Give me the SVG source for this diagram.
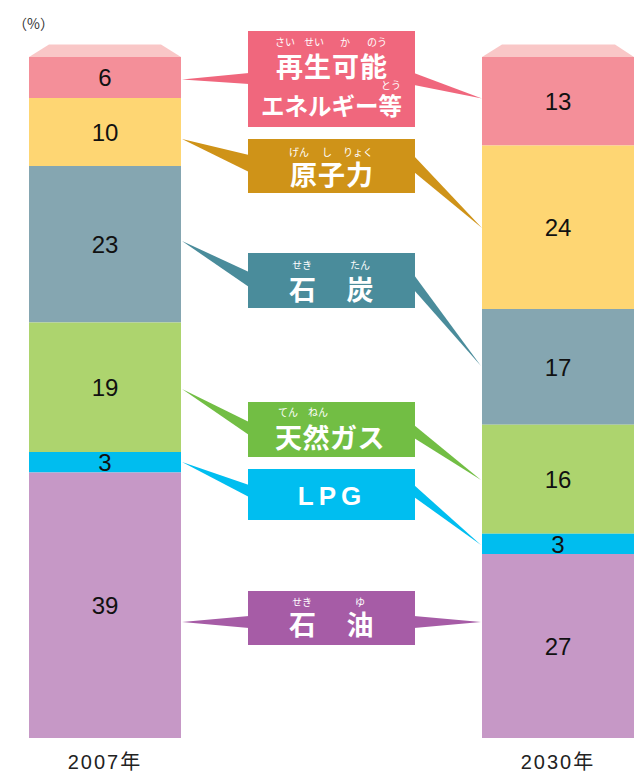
<svg xmlns="http://www.w3.org/2000/svg" width="642" height="773" viewBox="0 0 642 773">
<style>
.num{font-family:"Liberation Sans","Noto Sans",sans-serif;font-size:24px;fill:#111;text-anchor:middle}
.yr{font-family:"Liberation Sans","Noto Sans CJK JP",sans-serif;font-size:20px;fill:#222;text-anchor:middle;letter-spacing:2px}
.main{font-family:"Noto Sans CJK JP","Noto Sans",sans-serif;font-weight:700;font-size:27px;fill:#fff;text-anchor:middle}
.ruby{font-family:"Noto Sans CJK JP",sans-serif;font-size:10px;fill:#fff;text-anchor:middle}
.pink{fill:#F0677D}.gold{fill:#CF9318}.teal{fill:#4A8C9B}.grn{fill:#72BE44}.sky{fill:#00BEF0}.pur{fill:#A65CA6}
</style>
<rect width="642" height="773" fill="#fff"/>
<text x="13" y="29" font-family="Noto Sans CJK JP,sans-serif" font-size="14" fill="#333">（%）</text>

<g id="bar2007">
<polygon points="29,57 49,44.5 161,44.5 181,57" fill="#F9C7C7"/>
<rect x="29" y="57" width="152" height="41" fill="#F48F99"/>
<rect x="29" y="98" width="152" height="68" fill="#FED673"/>
<rect x="29" y="166" width="152" height="156.5" fill="#85A6B1"/>
<rect x="29" y="322.5" width="152" height="129.5" fill="#ADD46E"/>
<rect x="29" y="452" width="152" height="20.5" fill="#00BDEF"/>
<rect x="29" y="472.5" width="152" height="265.5" fill="#C698C6"/>
<text class="num" x="105" y="86">6</text>
<text class="num" x="105" y="140.5">10</text>
<text class="num" x="105" y="252.5">23</text>
<text class="num" x="105" y="395.5">19</text>
<text class="num" x="105" y="470.5">3</text>
<text class="num" x="105" y="613.5">39</text>
<text class="yr" x="105" y="769">2007年</text>
</g>

<g id="bar2030">
<polygon points="482,57 502,44.5 615,44.5 634,57" fill="#F9C7C7"/>
<rect x="482" y="57" width="152" height="88.5" fill="#F48F99"/>
<rect x="482" y="145.5" width="152" height="163.5" fill="#FED673"/>
<rect x="482" y="309" width="152" height="115.7" fill="#85A6B1"/>
<rect x="482" y="424.7" width="152" height="109" fill="#ADD46E"/>
<rect x="482" y="533.7" width="152" height="20.3" fill="#00BDEF"/>
<rect x="482" y="554" width="152" height="184" fill="#C698C6"/>
<text class="num" x="558" y="109.5">13</text>
<text class="num" x="558" y="235.5">24</text>
<text class="num" x="558" y="375.5">17</text>
<text class="num" x="558" y="487.5">16</text>
<text class="num" x="558" y="552.5">3</text>
<text class="num" x="558" y="654.5">27</text>
<text class="yr" x="558" y="769">2030年</text>
</g>

<g id="connectors">
<polygon class="pink" points="249,73 182,79.5 249,84"/>
<polygon class="pink" points="414,73 482,98.5 414,85"/>
<polygon class="gold" points="249,155 182,139 249,172"/>
<polygon class="gold" points="414,156 482,228 414,172"/>
<polygon class="teal" points="249,272 182,241 249,287"/>
<polygon class="teal" points="414,275 481,366 414,290"/>
<polygon class="grn" points="249,422 182,389 249,435"/>
<polygon class="grn" points="414,425 481,480 414,438"/>
<polygon class="sky" points="249,485 182,462 249,497"/>
<polygon class="sky" points="414,485 481,545 414,497"/>
<polygon class="pur" points="249,616 182,622 249,628"/>
<polygon class="pur" points="414,616 481,622 414,628"/>
</g>

<g id="renewable">
<rect class="pink" x="248" y="31" width="167" height="96"/>
<text class="ruby" x="285" y="46">さい</text>
<text class="ruby" x="314" y="46">せい</text>
<text class="ruby" x="345" y="46">か</text>
<text class="ruby" x="377" y="46">のう</text>
<text class="main" x="332" y="77" letter-spacing="1">再生可能</text>
<text class="ruby" x="391" y="89">とう</text>
<text class="main" x="261" y="115" style="text-anchor:start;font-size:24px" textLength="141" lengthAdjust="spacingAndGlyphs">エネルギー等</text>
</g>

<g id="nuclear">
<rect class="gold" x="248" y="139" width="167" height="54"/>
<text class="ruby" x="299" y="156">げん</text>
<text class="ruby" x="327" y="156">し</text>
<text class="ruby" x="358" y="156">りょく</text>
<text class="main" x="332" y="185" letter-spacing="1">原子力</text>
</g>

<g id="coal">
<rect class="teal" x="248" y="253" width="167" height="55"/>
<text class="ruby" x="302" y="269">せき</text>
<text class="ruby" x="360" y="269">たん</text>
<text class="main" x="302.5" y="300">石</text>
<text class="main" x="360" y="300">炭</text>
</g>

<g id="gas">
<rect class="grn" x="248" y="402" width="167" height="55"/>
<text class="ruby" x="288" y="416">てん</text>
<text class="ruby" x="318" y="416">ねん</text>
<text class="main" x="330" y="448" letter-spacing="0.5">天然ガス</text>
</g>

<g id="lpg">
<rect class="sky" x="248" y="469" width="167" height="51"/>
<text x="332" y="505" font-family="Liberation Sans,Noto Sans,sans-serif" font-weight="700" font-size="26" fill="#fff" text-anchor="middle" letter-spacing="5">LPG</text>
</g>

<g id="oil">
<rect class="pur" x="248" y="591" width="167" height="54"/>
<text class="ruby" x="302" y="606">せき</text>
<text class="ruby" x="360" y="606">ゆ</text>
<text class="main" x="302.5" y="635">石</text>
<text class="main" x="360" y="635">油</text>
</g>
</svg>
